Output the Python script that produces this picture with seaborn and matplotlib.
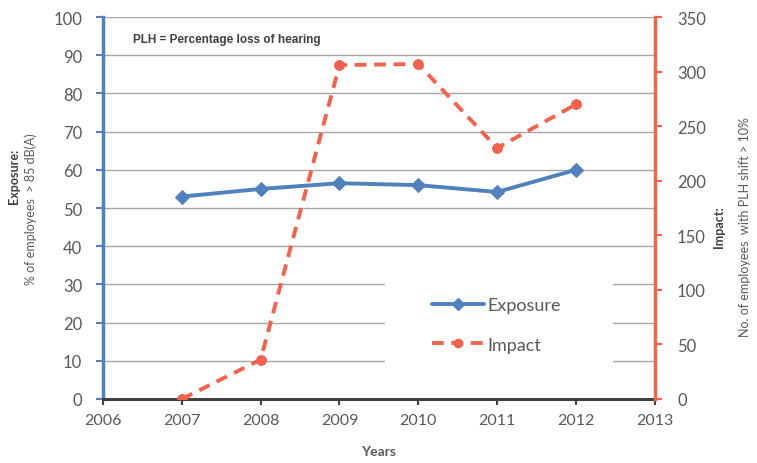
import pandas as pd
import seaborn as sns
import matplotlib.pyplot as plt
from matplotlib.lines import Line2D
from matplotlib.patches import Rectangle

# values
years = [2007, 2008, 2009, 2010, 2011, 2012]
exposure = [53.0, 55.0, 56.5, 56.0, 54.2, 60.0]
impact = [0, 36, 306, 307, 230, 270]

BLUE = "#4f81bd"
RED = "#f2624c"
GREY = "#595959"


def main():
    df = pd.DataFrame({"Year": years, "Exposure": exposure, "Impact": impact})

    sns.set_theme(style="white")
    plt.rcParams["font.family"] = ["Lato", "DejaVu Sans"]

    fig = plt.figure(figsize=(7.57, 4.64), dpi=100)
    ax = fig.add_axes([0.136, 0.138, 0.729, 0.823])
    ax2 = ax.twinx()

    sns.lineplot(data=df, x="Year", y="Exposure", ax=ax, color=BLUE,
                 marker="D", markersize=7, linewidth=2.8,
                 markeredgecolor=BLUE, legend=False, zorder=3)
    sns.lineplot(data=df, x="Year", y="Impact", ax=ax2, color=RED,
                 marker="o", markersize=7, linewidth=2.8, dashes=(3, 2),
                 markeredgecolor=RED, legend=False, zorder=3)

    ax.set_xlim(2006, 2013)
    ax.set_ylim(0, 100)
    ax2.set_ylim(0, 350)
    ax.set_xticks(range(2006, 2014))
    ax.set_yticks(range(0, 101, 10))
    ax2.set_yticks(range(0, 351, 50))

    ax.yaxis.grid(True, color="#a6a6a6", linewidth=1)
    ax.set_axisbelow(True)

    for a in (ax, ax2):
        a.spines["top"].set_visible(False)
    ax.spines["right"].set_visible(False)
    ax2.spines["left"].set_visible(False)
    ax2.spines["bottom"].set_visible(False)
    ax.spines["left"].set_color(BLUE)
    ax.spines["left"].set_linewidth(2.5)
    ax2.spines["right"].set_color(RED)
    ax2.spines["right"].set_linewidth(2.5)
    ax.spines["bottom"].set_color("#404040")
    ax.spines["bottom"].set_linewidth(2.2)

    ax.tick_params(axis="y", direction="out", length=5, width=1.5, color=BLUE,
                   labelcolor=GREY, labelsize=12, left=True, pad=10)
    ax.tick_params(axis="x", direction="out", length=4, width=1.5, color="#404040",
                   labelcolor=GREY, labelsize=11.5, bottom=True, pad=6)
    ax2.tick_params(axis="y", direction="out", length=5, width=1.5, color=RED,
                    labelcolor=GREY, labelsize=12, right=True, pad=11)

    ax.set_xlabel("Years", fontsize=10, fontweight="bold", color=GREY, labelpad=13)
    ax.set_ylabel("")
    ax2.set_ylabel("")

    # two-line axis titles, first line bold
    fig.text(0.019, 0.62, "Exposure:", rotation=90, ha="center", va="center",
             fontsize=9, fontweight="bold", color="#404040")
    fig.text(0.040, 0.55, "% of employees  > 85 dB(A)", rotation=90, ha="center",
             va="center", fontsize=9, color=GREY)
    fig.text(0.950, 0.51, "Impact:", rotation=90, ha="center", va="center",
             fontsize=9, fontweight="bold", color="#404040")
    fig.text(0.984, 0.51, "No. of employees  with PLH shift > 10%", rotation=90,
             ha="center", va="center", fontsize=9, color=GREY)

    ax.text(0.055, 0.943, "PLH = Percentage loss of hearing", transform=ax.transAxes,
            fontsize=8.5, fontweight="bold", color="#404040", ha="left", va="center",
            family=["Liberation Sans", "DejaVu Sans"])

    # white legend area that hides the gridlines behind it
    ax.add_patch(Rectangle((0.511, 0.065), 0.413, 0.262, transform=ax.transAxes,
                           facecolor="white", edgecolor="none", zorder=1))

    handles = [
        Line2D([], [], color=BLUE, marker="D", markersize=6, linewidth=2.8),
        Line2D([], [], color=RED, marker="o", markersize=6, linewidth=2.8,
               dashes=(3, 2)),
    ]
    leg = ax2.legend(handles, ["Exposure", "Impact"], loc="center",
                     bbox_to_anchor=(0.713, 0.194), frameon=False, fontsize=13,
                     handlelength=2.9, labelspacing=1.3, handletextpad=0.2,
                     borderaxespad=0)
    for t in leg.get_texts():
        t.set_color(GREY)

    fig.savefig("out.png", dpi=100)


if __name__ == "__main__":
    main()
